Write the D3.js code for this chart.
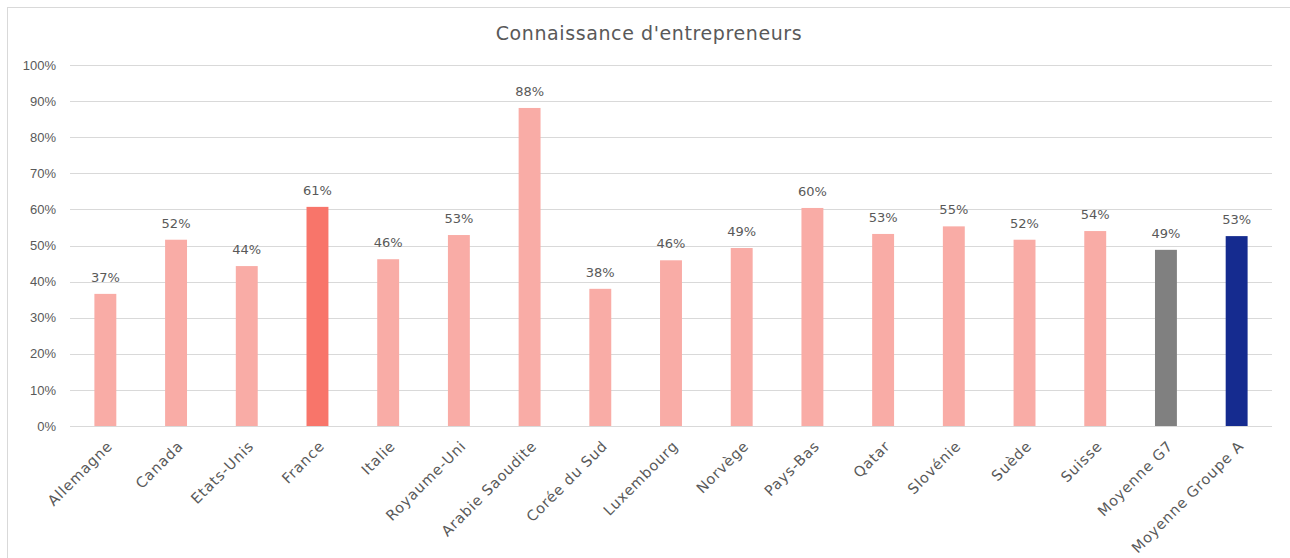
<!DOCTYPE html>
<html lang="fr">
<head>
  <meta charset="UTF-8" />
  <title>Connaissance d'entrepreneurs</title>
  <script src="https://d3js.org/d3.v7.min.js"></script>
  <style>
    body {
      margin: 0;
      background: #fff;
      font-family: "DejaVu Sans", "Noto Sans", sans-serif;
    }
    svg {
      display: block;
    }
    .grid line {
      stroke: #d9d9d9;
      stroke-width: 1;
    }
    .axis text, .value {
      fill: #595959;
      font-size: 13px;
    }
    .cat {
      fill: #595959;
      font-size: 14.5px;
      letter-spacing: 0.8px;
    }
    .title {
      fill: #595959;
      font-size: 19px;
      letter-spacing: 0.6px;
    }
  </style>
</head>
<body>

<svg width="1290" height="558"></svg>

<script>
  const categories = [
    "Allemagne", "Canada", "Etats-Unis", "France", "Italie", "Royaume-Uni",
    "Arabie Saoudite", "Corée du Sud", "Luxembourg", "Norvège", "Pays-Bas",
    "Qatar", "Slovénie", "Suède", "Suisse", "Moyenne G7", "Moyenne Groupe A"
  ];
  const values = [
    0.366, 0.516, 0.443, 0.607, 0.462, 0.529,
    0.881, 0.380, 0.459, 0.493, 0.604,
    0.532, 0.553, 0.516, 0.540, 0.488, 0.526
  ];
  const colors = [
    "#f9aca6", "#f9aca6", "#f9aca6", "#f8756a", "#f9aca6", "#f9aca6",
    "#f9aca6", "#f9aca6", "#f9aca6", "#f9aca6", "#f9aca6",
    "#f9aca6", "#f9aca6", "#f9aca6", "#f9aca6", "#808080", "#152b8f"
  ];
  const yTicks = [0, 0.1, 0.2, 0.3, 0.4, 0.5, 0.6, 0.7, 0.8, 0.9, 1];

  const svg = d3.select("svg");

  // cadre du graphique
  svg.append("rect")
    .attr("x", 7.5).attr("y", 7.5)
    .attr("width", 1290).attr("height", 560)
    .attr("fill", "#fff")
    .attr("stroke", "#d9d9d9");

  const plotLeft = 70, plotRight = 1272, plotTop = 65, plotBottom = 426;

  const x = d3.scaleBand()
    .domain(categories)
    .range([plotLeft, plotRight])
    .paddingInner(0.69)
    .paddingOuter(0.345);

  const y = d3.scaleLinear()
    .domain([0, 1])
    .range([plotBottom, plotTop]);

  svg.append("text")
    .attr("class", "title")
    .attr("x", 649)
    .attr("y", 40)
    .attr("text-anchor", "middle")
    .text("Connaissance d'entrepreneurs");

  // lignes de grille
  svg.append("g")
    .attr("class", "grid")
    .selectAll("line")
    .data(yTicks)
    .enter().append("line")
    .attr("x1", plotLeft)
    .attr("x2", plotRight)
    .attr("y1", d => Math.round(y(d)) + 0.5)
    .attr("y2", d => Math.round(y(d)) + 0.5);

  // axe Y
  const yAxis = svg.append("g")
    .attr("class", "axis")
    .attr("transform", `translate(${plotLeft},0)`)
    .call(d3.axisLeft(y).tickValues(yTicks).tickFormat(d3.format(".0%")).tickSize(0).tickPadding(14));
  yAxis.select(".domain").remove();
  yAxis.selectAll("text").attr("font-size", null).attr("font-family", null);

  // barres
  svg.selectAll("rect.bar")
    .data(values)
    .enter().append("rect")
    .attr("class", "bar")
    .attr("x", (d, i) => x(categories[i]))
    .attr("y", d => y(d))
    .attr("width", x.bandwidth())
    .attr("height", d => y(0) - y(d))
    .attr("fill", (d, i) => colors[i]);

  // étiquettes de valeur
  svg.selectAll("text.value")
    .data(values)
    .enter().append("text")
    .attr("class", "value")
    .attr("x", (d, i) => x(categories[i]) + x.bandwidth() / 2)
    .attr("y", d => y(d) - 12)
    .attr("text-anchor", "middle")
    .text(d => d3.format(".0%")(d));

  // étiquettes de catégorie
  svg.selectAll("text.cat")
    .data(categories)
    .enter().append("text")
    .attr("class", "cat")
    .attr("text-anchor", "end")
    .attr("transform", d => `translate(${x(d) + x.bandwidth() / 2 + 8},${plotBottom + 21}) rotate(-45)`)
    .text(d => d);
</script>

</body>
</html>
